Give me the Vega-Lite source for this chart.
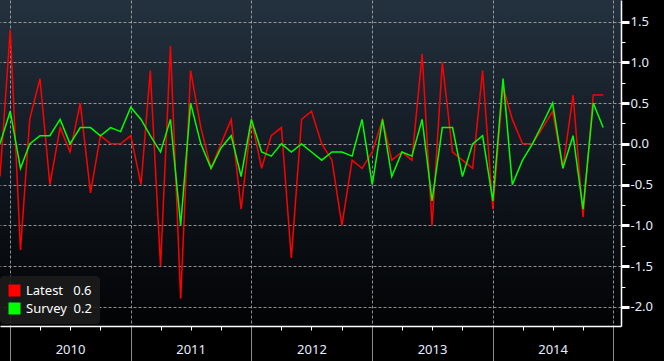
{
  "$schema": "https://vega.github.io/schema/vega-lite/v6.json",
  "width": 621,
  "height": 326,
  "autosize": "none",
  "padding": {"left": 0, "top": 0, "right": 43, "bottom": 35},
  "background": "#000000",
  "config": {
    "font": "Noto Sans",
    "view": {
      "stroke": null,
      "fill": {
        "gradient": "linear", "x1": 0, "y1": 0, "x2": 0, "y2": 1,
        "stops": [
          {"offset": 0, "color": "#24323f"},
          {"offset": 0.5, "color": "#111820"},
          {"offset": 1, "color": "#020304"}
        ]
      }
    }
  },
  "data": {
    "values": [
      {"date": "2009-12-01", "series": "Latest", "value": -0.4},
      {"date": "2010-01-01", "series": "Latest", "value": 1.4},
      {"date": "2010-02-01", "series": "Latest", "value": -1.3},
      {"date": "2010-03-01", "series": "Latest", "value": 0.3},
      {"date": "2010-04-01", "series": "Latest", "value": 0.8},
      {"date": "2010-05-01", "series": "Latest", "value": -0.5},
      {"date": "2010-06-01", "series": "Latest", "value": 0.2},
      {"date": "2010-07-01", "series": "Latest", "value": -0.1},
      {"date": "2010-08-01", "series": "Latest", "value": 0.5},
      {"date": "2010-09-01", "series": "Latest", "value": -0.6},
      {"date": "2010-10-01", "series": "Latest", "value": 0.1},
      {"date": "2010-11-01", "series": "Latest", "value": 0.0},
      {"date": "2010-12-01", "series": "Latest", "value": 0.0},
      {"date": "2011-01-01", "series": "Latest", "value": 0.1},
      {"date": "2011-02-01", "series": "Latest", "value": -0.5},
      {"date": "2011-03-01", "series": "Latest", "value": 0.9},
      {"date": "2011-04-01", "series": "Latest", "value": -1.5},
      {"date": "2011-05-01", "series": "Latest", "value": 1.2},
      {"date": "2011-06-01", "series": "Latest", "value": -1.9},
      {"date": "2011-07-01", "series": "Latest", "value": 0.9},
      {"date": "2011-08-01", "series": "Latest", "value": 0.2},
      {"date": "2011-09-01", "series": "Latest", "value": -0.3},
      {"date": "2011-10-01", "series": "Latest", "value": 0.0},
      {"date": "2011-11-01", "series": "Latest", "value": 0.3},
      {"date": "2011-12-01", "series": "Latest", "value": -0.8},
      {"date": "2012-01-01", "series": "Latest", "value": 0.3},
      {"date": "2012-02-01", "series": "Latest", "value": -0.3},
      {"date": "2012-03-01", "series": "Latest", "value": 0.1},
      {"date": "2012-04-01", "series": "Latest", "value": 0.2},
      {"date": "2012-05-01", "series": "Latest", "value": -1.4},
      {"date": "2012-06-01", "series": "Latest", "value": 0.3},
      {"date": "2012-07-01", "series": "Latest", "value": 0.4},
      {"date": "2012-08-01", "series": "Latest", "value": 0.0},
      {"date": "2012-09-01", "series": "Latest", "value": -0.2},
      {"date": "2012-10-01", "series": "Latest", "value": -1.0},
      {"date": "2012-11-01", "series": "Latest", "value": -0.2},
      {"date": "2012-12-01", "series": "Latest", "value": -0.3},
      {"date": "2013-01-01", "series": "Latest", "value": -0.1},
      {"date": "2013-02-01", "series": "Latest", "value": 0.3},
      {"date": "2013-03-01", "series": "Latest", "value": -0.2},
      {"date": "2013-04-01", "series": "Latest", "value": -0.1},
      {"date": "2013-05-01", "series": "Latest", "value": -0.2},
      {"date": "2013-06-01", "series": "Latest", "value": 1.1},
      {"date": "2013-07-01", "series": "Latest", "value": -1.0},
      {"date": "2013-08-01", "series": "Latest", "value": 1.0},
      {"date": "2013-09-01", "series": "Latest", "value": -0.1},
      {"date": "2013-10-01", "series": "Latest", "value": -0.2},
      {"date": "2013-11-01", "series": "Latest", "value": -0.3},
      {"date": "2013-12-01", "series": "Latest", "value": 0.9},
      {"date": "2014-01-01", "series": "Latest", "value": -0.8},
      {"date": "2014-02-01", "series": "Latest", "value": 0.7},
      {"date": "2014-03-01", "series": "Latest", "value": 0.3},
      {"date": "2014-04-01", "series": "Latest", "value": 0.0},
      {"date": "2014-05-01", "series": "Latest", "value": 0.0},
      {"date": "2014-06-01", "series": "Latest", "value": 0.2},
      {"date": "2014-07-01", "series": "Latest", "value": 0.4},
      {"date": "2014-08-01", "series": "Latest", "value": -0.3},
      {"date": "2014-09-01", "series": "Latest", "value": 0.6},
      {"date": "2014-10-01", "series": "Latest", "value": -0.9},
      {"date": "2014-11-01", "series": "Latest", "value": 0.6},
      {"date": "2014-12-01", "series": "Latest", "value": 0.6},
      {"date": "2009-12-01", "series": "Survey", "value": 0.0},
      {"date": "2010-01-01", "series": "Survey", "value": 0.4},
      {"date": "2010-02-01", "series": "Survey", "value": -0.3},
      {"date": "2010-03-01", "series": "Survey", "value": 0.0},
      {"date": "2010-04-01", "series": "Survey", "value": 0.1},
      {"date": "2010-05-01", "series": "Survey", "value": 0.1},
      {"date": "2010-06-01", "series": "Survey", "value": 0.3},
      {"date": "2010-07-01", "series": "Survey", "value": 0.0},
      {"date": "2010-08-01", "series": "Survey", "value": 0.2},
      {"date": "2010-09-01", "series": "Survey", "value": 0.2},
      {"date": "2010-10-01", "series": "Survey", "value": 0.1},
      {"date": "2010-11-01", "series": "Survey", "value": 0.2},
      {"date": "2010-12-01", "series": "Survey", "value": 0.15},
      {"date": "2011-01-01", "series": "Survey", "value": 0.45},
      {"date": "2011-02-01", "series": "Survey", "value": 0.3},
      {"date": "2011-03-01", "series": "Survey", "value": 0.1},
      {"date": "2011-04-01", "series": "Survey", "value": -0.1},
      {"date": "2011-05-01", "series": "Survey", "value": 0.3},
      {"date": "2011-06-01", "series": "Survey", "value": -1.0},
      {"date": "2011-07-01", "series": "Survey", "value": 0.5},
      {"date": "2011-08-01", "series": "Survey", "value": 0.0},
      {"date": "2011-09-01", "series": "Survey", "value": -0.3},
      {"date": "2011-10-01", "series": "Survey", "value": -0.05},
      {"date": "2011-11-01", "series": "Survey", "value": 0.1},
      {"date": "2011-12-01", "series": "Survey", "value": -0.4},
      {"date": "2012-01-01", "series": "Survey", "value": 0.3},
      {"date": "2012-02-01", "series": "Survey", "value": -0.1},
      {"date": "2012-03-01", "series": "Survey", "value": -0.15},
      {"date": "2012-04-01", "series": "Survey", "value": 0.0},
      {"date": "2012-05-01", "series": "Survey", "value": -0.1},
      {"date": "2012-06-01", "series": "Survey", "value": 0.0},
      {"date": "2012-07-01", "series": "Survey", "value": -0.1},
      {"date": "2012-08-01", "series": "Survey", "value": -0.2},
      {"date": "2012-09-01", "series": "Survey", "value": -0.1},
      {"date": "2012-10-01", "series": "Survey", "value": -0.1},
      {"date": "2012-11-01", "series": "Survey", "value": -0.15},
      {"date": "2012-12-01", "series": "Survey", "value": 0.3},
      {"date": "2013-01-01", "series": "Survey", "value": -0.5},
      {"date": "2013-02-01", "series": "Survey", "value": 0.3},
      {"date": "2013-03-01", "series": "Survey", "value": -0.4},
      {"date": "2013-04-01", "series": "Survey", "value": -0.1},
      {"date": "2013-05-01", "series": "Survey", "value": -0.15},
      {"date": "2013-06-01", "series": "Survey", "value": 0.3},
      {"date": "2013-07-01", "series": "Survey", "value": -0.7},
      {"date": "2013-08-01", "series": "Survey", "value": 0.2},
      {"date": "2013-09-01", "series": "Survey", "value": 0.2},
      {"date": "2013-10-01", "series": "Survey", "value": -0.4},
      {"date": "2013-11-01", "series": "Survey", "value": 0.0},
      {"date": "2013-12-01", "series": "Survey", "value": 0.1},
      {"date": "2014-01-01", "series": "Survey", "value": -0.7},
      {"date": "2014-02-01", "series": "Survey", "value": 0.8},
      {"date": "2014-03-01", "series": "Survey", "value": -0.5},
      {"date": "2014-04-01", "series": "Survey", "value": -0.2},
      {"date": "2014-05-01", "series": "Survey", "value": 0.0},
      {"date": "2014-06-01", "series": "Survey", "value": 0.25},
      {"date": "2014-07-01", "series": "Survey", "value": 0.5},
      {"date": "2014-08-01", "series": "Survey", "value": -0.3},
      {"date": "2014-09-01", "series": "Survey", "value": 0.1},
      {"date": "2014-10-01", "series": "Survey", "value": -0.8},
      {"date": "2014-11-01", "series": "Survey", "value": 0.5},
      {"date": "2014-12-01", "series": "Survey", "value": 0.2}
    ]
  },
  "encoding": {
    "x": {
      "field": "date",
      "type": "temporal",
      "scale": {
        "type": "utc",
        "domain": [
          {"year": 2009, "month": 12, "date": 1, "utc": true},
          {"year": 2015, "month": 1, "date": 24, "utc": true}
        ]
      },
      "axis": {
        "title": null,
        "values": [
          {"year": 2010, "month": 1, "date": 1, "utc": true},
          {"year": 2010, "month": 4, "date": 1, "utc": true},
          {"year": 2010, "month": 7, "date": 1, "utc": true},
          {"year": 2010, "month": 10, "date": 1, "utc": true},
          {"year": 2011, "month": 1, "date": 1, "utc": true},
          {"year": 2011, "month": 4, "date": 1, "utc": true},
          {"year": 2011, "month": 7, "date": 1, "utc": true},
          {"year": 2011, "month": 10, "date": 1, "utc": true},
          {"year": 2012, "month": 1, "date": 1, "utc": true},
          {"year": 2012, "month": 4, "date": 1, "utc": true},
          {"year": 2012, "month": 7, "date": 1, "utc": true},
          {"year": 2012, "month": 10, "date": 1, "utc": true},
          {"year": 2013, "month": 1, "date": 1, "utc": true},
          {"year": 2013, "month": 4, "date": 1, "utc": true},
          {"year": 2013, "month": 7, "date": 1, "utc": true},
          {"year": 2013, "month": 10, "date": 1, "utc": true},
          {"year": 2014, "month": 1, "date": 1, "utc": true},
          {"year": 2014, "month": 4, "date": 1, "utc": true},
          {"year": 2014, "month": 7, "date": 1, "utc": true},
          {"year": 2014, "month": 10, "date": 1, "utc": true},
          {"year": 2015, "month": 1, "date": 1, "utc": true}
        ],
        "labelExpr": "utcmonth(datum.value) == 6 ? utcFormat(datum.value, '%Y') : ''",
        "labelColor": "#e6eeff",
        "labelFontSize": 13,
        "labelPadding": 13,
        "labelFlush": false,
        "labelOverlap": false,
        "domainColor": "#ffffff",
        "domainWidth": 1.5,
        "tickColor": {"condition": {"test": "utcmonth(datum.value) == 0", "value": "#8c8c8c"}, "value": "#ffffff"},
        "tickSize": {"condition": {"test": "utcmonth(datum.value) == 0", "value": 35}, "value": 4},
        "tickWidth": 1,
        "grid": true,
        "gridColor": "#a8a8a8",
        "gridDash": [3, 2],
        "gridWidth": 1,
        "gridOpacity": {"condition": {"test": "utcmonth(datum.value) == 0", "value": 0.85}, "value": 0}
      }
    },
    "y": {
      "field": "value",
      "type": "quantitative",
      "scale": {"domain": [-2.233, 1.764], "nice": false, "zero": false},
      "axis": {
        "orient": "right",
        "title": null,
        "values": [-2, -1.75, -1.5, -1.25, -1, -0.75, -0.5, -0.25, 0, 0.25, 0.5, 0.75, 1, 1.25, 1.5],
        "labelExpr": "abs(datum.value % 0.5) < 0.001 ? replace(format(datum.value, '.1f'), '\u2212', '-') : ''",
        "labelColor": "#e6eeff",
        "labelFontSize": 13,
        "labelPadding": 1,
        "labelAlign": "left",
        "labelBaseline": "middle",
        "labelOverlap": false,
        "labelFlush": false,
        "domainColor": "#ffffff",
        "domainWidth": 1.5,
        "tickColor": "#ffffff",
        "tickSize": {"condition": {"test": "abs(datum.value % 0.5) < 0.001", "value": 8}, "value": 4},
        "tickWidth": {"condition": {"test": "abs(datum.value % 0.5) < 0.001", "value": 3}, "value": 1},
        "grid": true,
        "gridColor": "#a8a8a8",
        "gridDash": [3, 2],
        "gridWidth": 1,
        "gridOpacity": {"condition": {"test": "abs(datum.value % 0.5) < 0.001", "value": 0.85}, "value": 0}
      }
    },
    "color": {
      "field": "series",
      "type": "nominal",
      "scale": {"domain": ["Latest", "Survey"], "range": ["#ff0000", "#00ff00"]},
      "legend": {
        "orient": "none",
        "legendX": 0,
        "legendY": 276,
        "title": null,
        "symbolType": "square",
        "symbolSize": 144,
        "symbolStrokeWidth": 0,
        "labelColor": "#ffffff",
        "labelFontSize": 13,
        "labelOffset": 5,
        "rowPadding": 4,
        "padding": 8,
        "fillColor": "rgba(28,28,28,0.9)",
        "cornerRadius": 4,
        "labelExpr": "datum.label == 'Latest' ? 'Latest\u00a0\u00a0\u00a00.6' : 'Survey\u00a0\u00a00.2'",
        "encode": {
          "symbols": {"update": {"fill": {"scale": "color", "field": "value"}, "strokeWidth": {"value": 0}}}
        }
      }
    }
  },
  "layer": [
    {
      "transform": [{"filter": "datum.series == 'Latest'"}],
      "mark": {"type": "line", "strokeWidth": 1.5}
    },
    {
      "transform": [{"filter": "datum.series == 'Survey'"}],
      "mark": {"type": "line", "strokeWidth": 1.5}
    }
  ]
}
